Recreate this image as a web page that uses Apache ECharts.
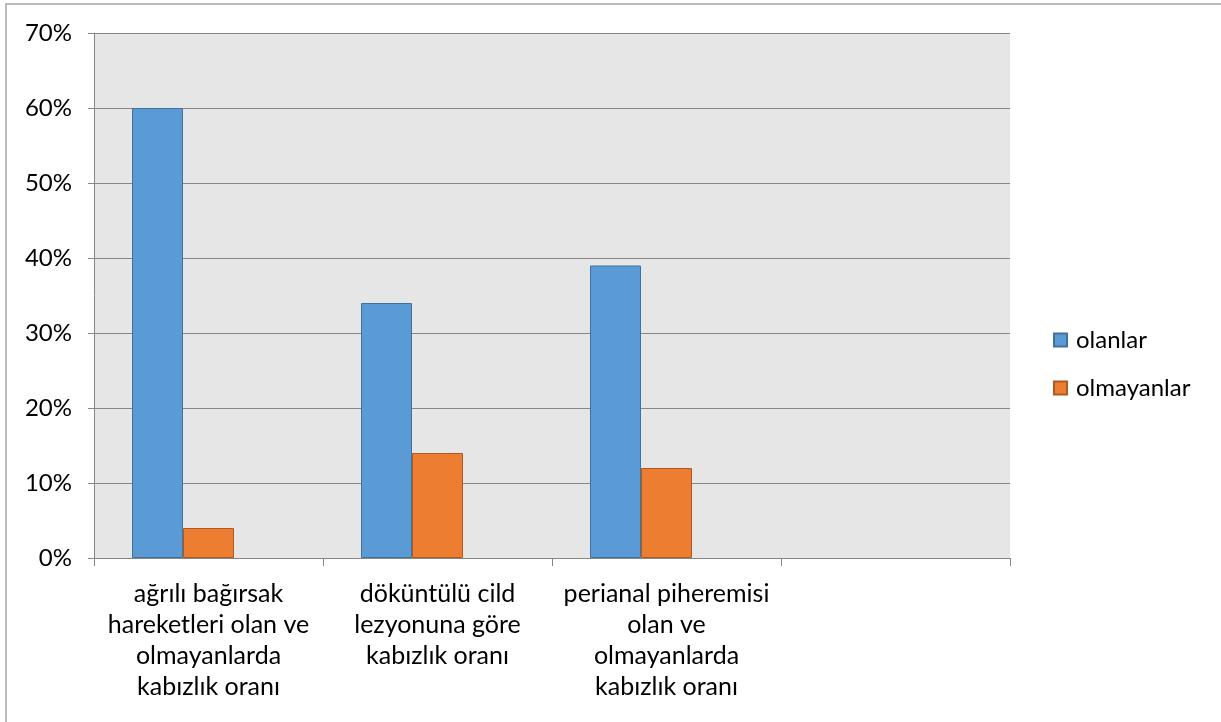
<!DOCTYPE html>
<html>
<head>
<meta charset="utf-8">
<script src="https://cdn.jsdelivr.net/npm/echarts@6/dist/echarts.min.js"></script>
<style>
  html, body { margin: 0; padding: 0; background: #ffffff; }
  #chart { width: 1221px; height: 722px; }
</style>
</head>
<body>
<div id="chart"></div>
<script>
// Constipation rates by symptom group
const categories = [
  'ağrılı bağırsak\nhareketleri olan ve\nolmayanlarda\nkabızlık oranı',
  'döküntülü cild\nlezyonuna göre\nkabızlık oranı',
  'perianal piheremisi\nolan ve\nolmayanlarda\nkabızlık oranı',
  ''
];
const olanlar = [60, 34, 39];
const olmayanlar = [4, 14, 12];
const yTicks = [0, 10, 20, 30, 40, 50, 60, 70];

const FONT = 'Lato, "Liberation Sans", sans-serif';
const chart = echarts.init(document.getElementById('chart'));

chart.setOption({
  animation: false,
  backgroundColor: '#ffffff',
  graphic: [{
    type: 'rect',
    shape: { x: 6, y: 4, width: 1300, height: 800 },
    style: { fill: 'none', stroke: '#a6a6a6', lineWidth: 1.5 },
    silent: true
  }],
  grid: {
    left: 94, right: 211, top: 33, bottom: 164,
    show: true, backgroundColor: '#e6e6e6', borderWidth: 0
  },
  legend: {
    orient: 'vertical',
    left: 1048, top: 323,
    itemWidth: 13, itemHeight: 13, itemGap: 24,
    data: ['olanlar', 'olmayanlar'],
    textStyle: { fontFamily: FONT, fontSize: 24, color: '#000000', padding: [0, 0, 0, 4] },
    icon: 'rect'
  },
  xAxis: {
    type: 'category',
    data: categories,
    axisLine: { lineStyle: { color: '#868686', width: 1 } },
    axisTick: { show: true, length: 8, lineStyle: { color: '#868686' } },
    axisLabel: {
      interval: 0, margin: 20, color: '#000000',
      fontFamily: FONT, fontSize: 25, lineHeight: 31, align: 'center'
    }
  },
  yAxis: {
    type: 'value',
    min: 0, max: 70, interval: 10,
    axisLine: { show: true, lineStyle: { color: '#868686', width: 1 } },
    axisTick: { show: true, length: 6, lineStyle: { color: '#868686' } },
    splitLine: { show: true, lineStyle: { color: '#868686', width: 1 } },
    axisLabel: {
      margin: 22, color: '#000000', fontFamily: FONT, fontSize: 24,
      formatter: v => yTicks.includes(v) ? v + '%' : ''
    }
  },
  series: [
    {
      name: 'olanlar', type: 'bar', data: olanlar,
      barGap: '0%', barCategoryGap: '33.2%',
      itemStyle: { color: '#5b9bd5', borderColor: '#41719c', borderWidth: 1 }
    },
    {
      name: 'olmayanlar', type: 'bar', data: olmayanlar,
      itemStyle: { color: '#ed7d31', borderColor: '#ae5a21', borderWidth: 1 }
    },
    {
      // third slot keeps the two visible bars left-aligned within each group
      name: 'bos', type: 'bar', data: [],
      itemStyle: { color: '#a5a5a5' }
    }
  ]
});
</script>
</body>
</html>
